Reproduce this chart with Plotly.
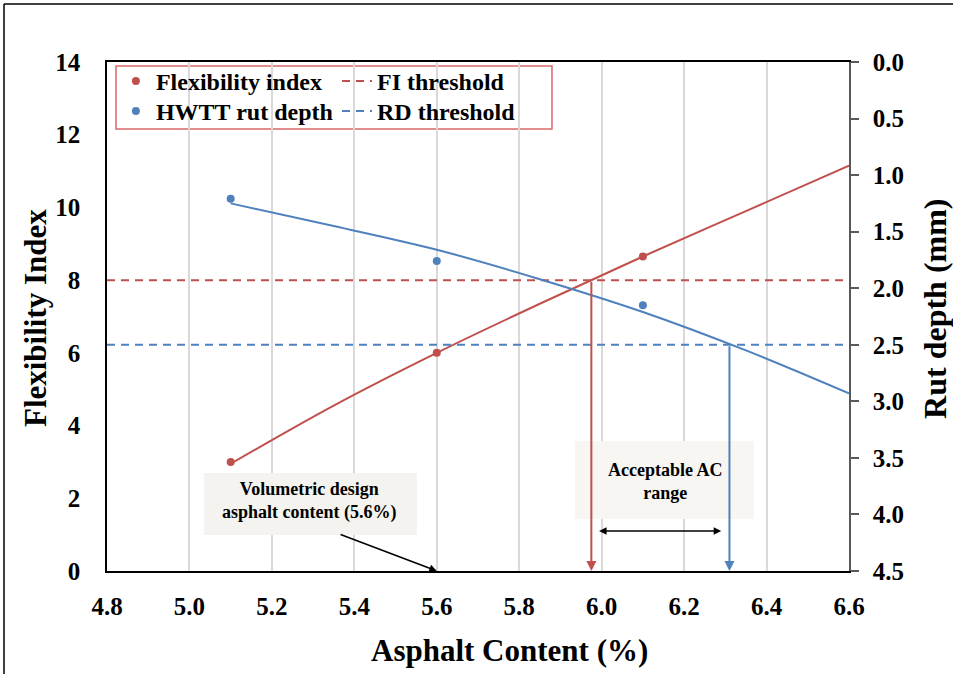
import plotly.graph_objects as go

# ---------------- data ----------------
ac_points = [5.1, 5.6, 6.1]
fi_points = [3.0, 6.0, 8.65]
rd_points = [1.21, 1.76, 2.15]

ac_trend = [5.1, 5.35, 5.6, 5.85, 6.1, 6.35, 6.6]
fi_trend = [2.95, 4.55, 6.0, 7.35, 8.65, 9.9, 11.15]
rd_trend = [1.25, 1.45, 1.66, 1.92, 2.21, 2.55, 2.93]

x_range = [4.8, 6.6]
fi_threshold = 8.0
rd_threshold = 2.5
ac_acceptable = [5.975, 6.31]
volumetric_ac = 5.6

x_ticks = [4.8, 5.0, 5.2, 5.4, 5.6, 5.8, 6.0, 6.2, 6.4, 6.6]
fi_ticks = [0, 2, 4, 6, 8, 10, 12, 14]
rd_ticks = [0.0, 0.5, 1.0, 1.5, 2.0, 2.5, 3.0, 3.5, 4.0, 4.5]

RED = "#c0504d"
BLUE = "#4f81bd"
FONT = "Liberation Serif"

fig = go.Figure()

fig.add_trace(go.Scatter(x=ac_points, y=fi_points, mode="markers", name="Flexibility index",
                         marker=dict(color=RED, size=8), legend="legend"))
fig.add_trace(go.Scatter(x=ac_trend, y=fi_trend, mode="lines", line=dict(color=RED, width=2, shape="spline"),
                         showlegend=False, hoverinfo="skip"))
fig.add_trace(go.Scatter(x=ac_points, y=rd_points, mode="markers", name="HWTT rut depth",
                         marker=dict(color=BLUE, size=8), yaxis="y2", legend="legend3"))
fig.add_trace(go.Scatter(x=ac_trend, y=rd_trend, mode="lines", line=dict(color=BLUE, width=2, shape="spline"),
                         yaxis="y2", showlegend=False, hoverinfo="skip"))
fig.add_trace(go.Scatter(x=x_range, y=[fi_threshold, fi_threshold], mode="lines", name="FI threshold",
                         line=dict(color=RED, width=2, dash="8px,6px"), legend="legend2"))
fig.add_trace(go.Scatter(x=x_range, y=[rd_threshold, rd_threshold], mode="lines", name="RD threshold",
                         line=dict(color=BLUE, width=2, dash="8px,6px"), yaxis="y2", legend="legend4"))

tick_font = dict(family=FONT, size=25, color="black", weight="bold")
legend_font = dict(family=FONT, size=24, color="black", weight="bold")


def leg(x, y):
    return dict(x=x, y=y, xanchor="left", yanchor="top", bgcolor="rgba(0,0,0,0)",
                font=legend_font, tracegroupgap=0)


fig.update_layout(
    width=953, height=674,
    margin=dict(l=107, r=104, t=62, b=103, pad=0),
    paper_bgcolor="white", plot_bgcolor="white",
    showlegend=True,
    xaxis=dict(range=x_range, tickvals=x_ticks, ticktext=[f"{v:.1f}" for v in x_ticks],
               showgrid=True, gridcolor="#d9d9d9", gridwidth=1.5, zeroline=False,
               showline=True, linecolor="black", linewidth=1.5, mirror=True, ticks="",
               tickfont=tick_font, ticklabelstandoff=12),
    yaxis=dict(range=[0, 14], tickvals=fi_ticks, showgrid=False, zeroline=False,
               showline=True, linecolor="black", linewidth=1.5, ticks="",
               tickfont=tick_font, ticklabelstandoff=20),
    yaxis2=dict(range=[4.5, 0], overlaying="y", side="right", tickvals=rd_ticks,
                ticktext=[f"{v:.1f}" for v in rd_ticks], showgrid=False, zeroline=False,
                showline=True, linecolor="#595959", linewidth=1.5, ticks="outside", ticklen=8,
                tickcolor="#595959", tickwidth=1.5,
                tickfont=tick_font, ticklabelstandoff=9),
    legend=leg(0.012, 1.006),
    legend2=leg(0.310, 1.006),
    legend3=leg(0.012, 0.947),
    legend4=leg(0.310, 0.947),
)

shapes = [
    # legend frame
    dict(type="rect", xref="paper", yref="paper", x0=0.0121, x1=0.5997, y0=0.8684, y1=0.9921,
         line=dict(color="#d9686a", width=1.5), fillcolor="white", layer="between"),
    # annotation boxes
    dict(type="rect", xref="x", yref="y", x0=5.035, x1=5.552, y0=0.99, y1=2.695,
         line=dict(width=0), fillcolor="#f4f3ef", layer="between"),
    dict(type="rect", xref="x", yref="y", x0=5.935, x1=6.370, y0=1.43, y1=3.575,
         line=dict(width=0), fillcolor="#f7f6f2", layer="between"),
    # outer frame (left and top)
    dict(type="line", xref="paper", yref="paper", x0=-0.1388, x1=-0.1388, y0=-0.3, y1=1.114,
         line=dict(color="black", width=1.5), layer="above"),
    dict(type="line", xref="paper", yref="paper", x0=-0.1388, x1=1.3, y0=1.114, y1=1.114,
         line=dict(color="black", width=1.5), layer="above"),
]
fig.update_layout(shapes=shapes)

ann_font = dict(family=FONT, size=18, color="black", weight="bold")
annotations = [
    # axis titles
    dict(x=0.542, y=-0.157, xref="paper", yref="paper", text="Asphalt Content (%)",
         showarrow=False, font=dict(family=FONT, size=31, color="black", weight="bold"),
         xanchor="center", yanchor="middle"),
    dict(x=-0.097, y=0.497, xref="paper", yref="paper", text="Flexibility Index", textangle=-90,
         showarrow=False, font=dict(family=FONT, size=31, color="black", weight="bold"),
         xanchor="center", yanchor="middle"),
    dict(x=1.116, y=0.515, xref="paper", yref="paper", text="Rut depth (mm)", textangle=-90,
         showarrow=False, font=dict(family=FONT, size=32, color="black", weight="bold"),
         xanchor="center", yanchor="middle"),
    dict(x=5.292, y=1.93, xref="x", yref="y", text="Volumetric design<br>asphalt content (5.6%)",
         showarrow=False, font=ann_font, align="center"),
    dict(x=6.154, y=2.46, xref="x", yref="y", text="Acceptable AC<br>range",
         showarrow=False, font=ann_font, align="center"),
    # arrow to volumetric AC
    dict(x=volumetric_ac, y=0, xref="x", yref="y", ax=5.363, ay=1.02, axref="x", ayref="y",
         text="", showarrow=True, arrowhead=2, arrowsize=1, arrowwidth=1.5, arrowcolor="black"),
    # red vertical arrow (FI threshold)
    dict(x=ac_acceptable[0], y=0, xref="x", yref="y", ax=ac_acceptable[0], ay=fi_threshold,
         axref="x", ayref="y", text="", showarrow=True, arrowhead=2, arrowsize=1,
         arrowwidth=2, arrowcolor=RED),
    # blue vertical arrow (RD threshold)
    dict(x=ac_acceptable[1], y=4.5, xref="x", yref="y2", ax=ac_acceptable[1], ay=rd_threshold,
         axref="x", ayref="y2", text="", showarrow=True, arrowhead=2, arrowsize=1,
         arrowwidth=2, arrowcolor=BLUE),
    # double arrow for acceptable range
    dict(x=ac_acceptable[1] - 0.02, y=1.1, xref="x", yref="y", ax=ac_acceptable[0] + 0.015, ay=1.1,
         axref="x", ayref="y", text="", showarrow=True, arrowhead=2, startarrowhead=2,
         arrowside="end+start", arrowsize=1, arrowwidth=1.5, arrowcolor="black"),
]
fig.update_layout(annotations=annotations)

fig.write_html("out.html")
